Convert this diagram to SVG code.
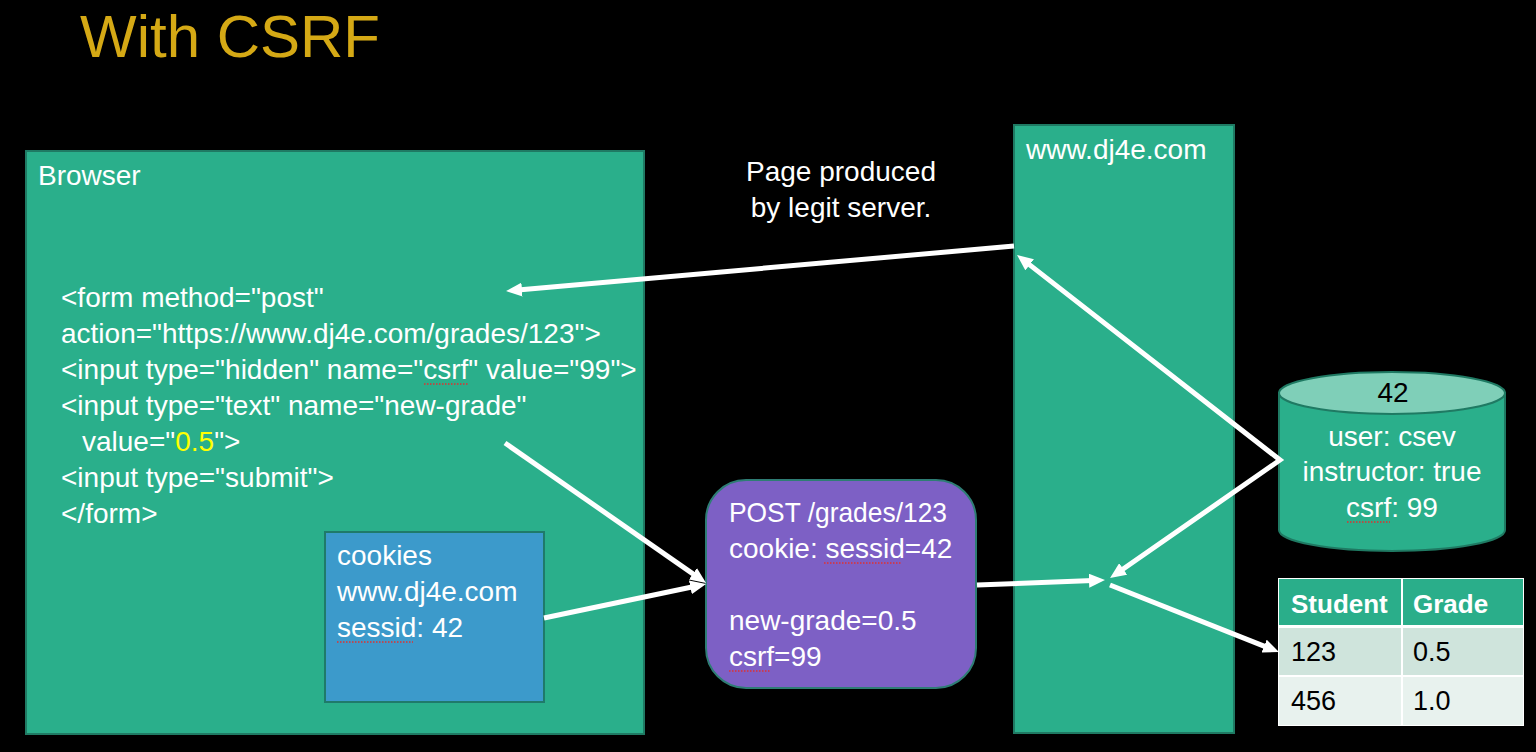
<svg xmlns="http://www.w3.org/2000/svg" width="1536" height="752" viewBox="0 0 1536 752">
<style>
  text { font-family: "Liberation Sans", Arial, sans-serif; }
  .t { font-size: 28px; fill: #ffffff; }
  .k { font-size: 28px; fill: #000000; }
  .box { fill: #2aaf8b; stroke: #1f7a63; stroke-width: 2; }
  .conn { fill: none; stroke: #ffffff; stroke-width: 5; stroke-linejoin: miter; }
  .sq { stroke: #e03030; stroke-width: 1.6; stroke-dasharray: 1.5 1.5; fill: none; }
  .th { font-size: 26px; font-weight: bold; fill: #ffffff; }
  .td { font-size: 27px; fill: #000000; }
</style>
<defs>
  <marker id="ah" markerUnits="userSpaceOnUse" viewBox="0 0 16 14" markerWidth="16" markerHeight="14" refX="4" refY="7" orient="auto-start-reverse">
    <path d="M0,0 L16,7 L0,14 z" fill="#ffffff"/>
  </marker>
</defs>
<rect x="0" y="0" width="1536" height="752" fill="#000000"/>

<g id="title">
  <text x="80" y="57" style="font-size:60px;fill:#d5a915">With CSRF</text>
</g>

<g id="browser">
  <rect class="box" x="26" y="151" width="618" height="583"/>
  <text class="t" x="38" y="185">Browser</text>
  <text class="t" x="61" y="307">&lt;form method="post"</text>
  <text class="t" x="61" y="343">action="https://www.dj4e.com/grades/123"&gt;</text>
  <text class="t" x="61" y="379">&lt;input type="hidden" name="csrf" value="99"&gt;</text>
  <path class="sq" d="M424,384 L468,384"/>
  <text class="t" x="61" y="415">&lt;input type="text" name="new-grade"</text>
  <text class="t" x="82" y="451">value="<tspan fill="#ffff00">0.5</tspan>"&gt;</text>
  <text class="t" x="61" y="487">&lt;input type="submit"&gt;</text>
  <text class="t" x="61" y="523">&lt;/form&gt;</text>
</g>

<g id="cookies">
  <rect x="325" y="532" width="219" height="170" fill="#3c9acb" stroke="#1f7a6a" stroke-width="2"/>
  <text class="t" x="337" y="565">cookies</text>
  <text class="t" x="337" y="601">www.dj4e.com</text>
  <text class="t" x="337" y="637">sessid: 42</text>
  <path class="sq" d="M337,642 L413,642"/>
</g>

<g id="label-page">
  <text class="t" x="841" y="181" text-anchor="middle">Page produced</text>
  <text class="t" x="841" y="217" text-anchor="middle">by legit server.</text>
</g>

<g id="post">
  <rect x="706" y="480" width="270" height="208" rx="40" ry="40" fill="#7d60c5" stroke="#2e7d74" stroke-width="2"/>
  <text class="t" x="729" y="522" textLength="218" lengthAdjust="spacingAndGlyphs">POST /grades/123</text>
  <text class="t" x="729" y="558">cookie: sessid=42</text>
  <path class="sq" d="M824,563 L902,563"/>
  <text class="t" x="729" y="630">new-grade=0.5</text>
  <text class="t" x="729" y="666">csrf=99</text>
  <path class="sq" d="M729,671 L771,671"/>
</g>

<g id="server">
  <rect class="box" x="1014" y="125" width="220" height="608"/>
  <text class="t" x="1026" y="159">www.dj4e.com</text>
</g>

<g id="session-store">
  <path d="M1279,393 L1279,530 A113,21 0 0 0 1505,530 L1505,393 Z" fill="#2aaf8b" stroke="#1f7a63" stroke-width="2"/>
  <ellipse cx="1392" cy="393" rx="113" ry="21" fill="#7fcfb8" stroke="#1f7a63" stroke-width="2"/>
  <text class="k" x="1393" y="402" text-anchor="middle">42</text>
  <text class="t" x="1392" y="446" text-anchor="middle">user: csev</text>
  <text class="t" x="1392" y="481" text-anchor="middle">instructor: true</text>
  <text class="t" x="1392" y="517" text-anchor="middle">csrf: 99</text>
  <path class="sq" d="M1347,522 L1390,522"/>
</g>

<g id="grades-table">
  <rect x="1278" y="578" width="246" height="148" fill="#ffffff"/>
  <rect x="1279" y="579" width="122" height="46" fill="#2aae8a"/>
  <rect x="1403" y="579" width="120" height="46" fill="#2aae8a"/>
  <rect x="1279" y="628" width="122" height="47" fill="#cfe4dc"/>
  <rect x="1403" y="628" width="120" height="47" fill="#cfe4dc"/>
  <rect x="1279" y="677" width="122" height="48" fill="#e8f2ee"/>
  <rect x="1403" y="677" width="120" height="48" fill="#e8f2ee"/>
  <text class="th" x="1291" y="613">Student</text>
  <text class="th" x="1413" y="613">Grade</text>
  <text class="td" x="1291" y="661">123</text>
  <text class="td" x="1413" y="661">0.5</text>
  <text class="td" x="1291" y="710">456</text>
  <text class="td" x="1413" y="710">1.0</text>
</g>

<g id="connectors">
  <path class="conn" d="M1014,246 L518,290" marker-end="url(#ah)"/>
  <path class="conn" d="M1026.5,262.4 L1280,460 L1119.9,571.2" marker-start="url(#ah)" marker-end="url(#ah)"/>
  <path class="conn" d="M977,585 L1093,580.5" marker-end="url(#ah)"/>
  <path class="conn" d="M1110,585 L1267.8,647.6" marker-end="url(#ah)"/>
  <path class="conn" d="M505,443 L696.2,576.1" marker-end="url(#ah)"/>
  <path class="conn" d="M544,618 L694.3,586.5" marker-end="url(#ah)"/>
</g>
</svg>
